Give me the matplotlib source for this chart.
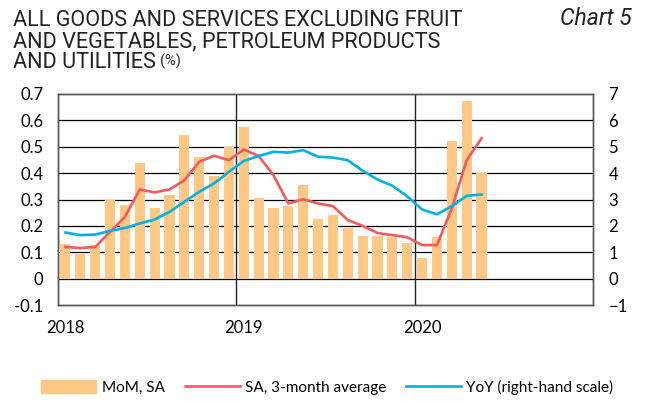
import numpy as np
import matplotlib
matplotlib.use('Agg')
import matplotlib.pyplot as plt
from matplotlib.patches import Patch
from matplotlib.lines import Line2D

# monthly data, Jan 2018 - May 2020
mom_sa = [0.133, 0.094, 0.127, 0.297, 0.278, 0.437, 0.267, 0.318, 0.543, 0.461, 0.390, 0.500,
          0.575, 0.307, 0.267, 0.277, 0.354, 0.227, 0.243, 0.192, 0.161, 0.163, 0.156, 0.134,
          0.078, 0.157, 0.522, 0.672, 0.400]
sa_3m = [0.120, 0.116, 0.120, 0.177, 0.234, 0.338, 0.327, 0.338, 0.373, 0.443, 0.466, 0.449,
         0.490, 0.465, 0.392, 0.285, 0.301, 0.285, 0.275, 0.222, 0.200, 0.173, 0.165, 0.157,
         0.127, 0.127, 0.266, 0.449, 0.532]
yoy = [1.75, 1.65, 1.67, 1.81, 1.92, 2.09, 2.24, 2.53, 2.91, 3.29, 3.61, 4.05,
       4.46, 4.65, 4.81, 4.78, 4.87, 4.62, 4.59, 4.49, 4.09, 3.76, 3.52, 3.12,
       2.62, 2.44, 2.75, 3.14, 3.19]
years = ['2018', '2019', '2020']
title_lines = ['ALL GOODS AND SERVICES EXCLUDING FRUIT',
               'AND VEGETABLES, PETROLEUM PRODUCTS',
               'AND UTILITIES']

bar_col = '#FFC985'
red_col = '#F45A5B'
blue_col = '#00B2E3'
tick_font = ['Lato', 'DejaVu Sans']
title_font = ['Roboto', 'DejaVu Sans']
W, H = 646, 401

x = np.arange(len(mom_sa)) + 0.5

fig = plt.figure(figsize=(6.46, 4.01), dpi=100)
ax = fig.add_axes([58 / W, 1 - 305 / H, 535 / W, 211 / H])
ax2 = ax.twinx()
ax.set_zorder(1)
ax.patch.set_visible(False)

ax.bar(x, mom_sa, width=0.68, color=bar_col, zorder=3)
ax.plot(x, sa_3m, color=red_col, lw=1.9, zorder=4)
# yoy is on the right scale (10x the left one); plot on ax so it stays above the bars
ax.plot(x, np.array(yoy) / 10, color=blue_col, lw=1.9, zorder=4)

ax.set_xlim(0, 36)
ax.set_ylim(-0.1, 0.7)
ax2.set_ylim(-1, 7)
ax.set_yticks(np.arange(-0.1, 0.71, 0.1))
ax.set_yticklabels(['-0.1', '0', '0.1', '0.2', '0.3', '0.4', '0.5', '0.6', '0.7'])
ax2.set_yticks(range(-1, 8))
ax.set_xticks([0.5, 12.5, 24.5])
ax.set_xticklabels(years)

for a in (ax, ax2):
    a.tick_params(length=0, labelsize=12)
    for lab in a.get_xticklabels() + a.get_yticklabels():
        lab.set_family(tick_font)
    for s in a.spines.values():
        s.set_color('#555555')
        s.set_linewidth(1.0)
ax.tick_params(axis='y', pad=10.5)
ax2.tick_params(axis='y', pad=11)
ax.tick_params(axis='x', pad=10.5)

for v in np.arange(0.0, 0.65, 0.1):
    ax.axhline(v, color='black', lw=0.9, zorder=2)
for m in (12, 24):
    ax.axvline(m, color='#222222', lw=1.0, zorder=2)

# title as one multi-line text
fig.text(13 / W, 1 - 10.5 / H, '\n'.join(title_lines), family=title_font, fontsize=15.6,
         va='top', ha='left', linespacing=1.0, color='#222222')
# measure the last line to put the small (%) right after it
tmp = fig.text(13 / W, 0.5, title_lines[-1], family=title_font, fontsize=15.6)
fig.canvas.draw()
bb = tmp.get_window_extent(fig.canvas.get_renderer())
tmp.remove()
fig.text((bb.x1 + 4) / W, 1 - 66 / H, '(%)', family=title_font, fontsize=10.5,
         va='baseline', ha='left', color='#222222')
fig.text(632 / W, 1 - 25 / H, 'Chart 5', family=title_font, fontsize=16.5,
         style='italic', va='baseline', ha='right', color='#222222')

handles = [Patch(color=bar_col), Line2D([], [], color=red_col, lw=1.9),
           Line2D([], [], color=blue_col, lw=1.9)]
labels = ['MoM, SA', 'SA, 3-month average', 'YoY (right-hand scale)']
fig.legend(handles, labels, loc='center', bbox_to_anchor=(0.507, 1 - 387 / H), ncol=3,
           frameon=False, handlelength=3.6, handleheight=0.9, handletextpad=0.35,
           columnspacing=1.3, borderpad=0, prop={'family': tick_font, 'size': 11})

fig.savefig('out.png', dpi=100)
